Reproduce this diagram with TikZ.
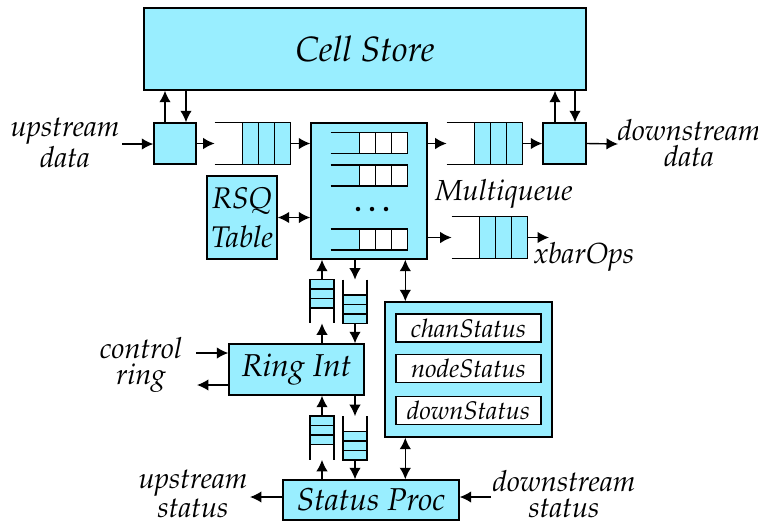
\documentclass[tikz,border=0pt]{standalone}
\usepackage[T1]{fontenc}
\usepackage{mathpazo}
\usetikzlibrary{arrows.meta,positioning,calc}
\definecolor{cellcyan}{HTML}{99EEFF}

% horizontal queue: open at the left, three cells at the right end
\newcommand{\hqueue}[2]{%
  \draw[thick] (#1.north west) -- (#1.north east) (#1.south west) -- (#1.south east);
  \foreach \k in {1,2,3}
    \draw[thick,fill=#2] ([xshift={-\k*0.32cm}]#1.north east) rectangle ([xshift={-(\k-1)*0.32cm}]#1.south east);
}
% vertical queue: cells at the output end (north or south)
\newcommand{\vqueue}[3]{%
  \draw[thick] (#1.north west) -- (#1.south west) (#1.north east) -- (#1.south east);
  \foreach \k in {1,2,3}
    \draw[thick,fill=cellcyan] ([yshift={#2*\k*0.19cm}]#1.#3 west) rectangle ([yshift={#2*(\k-1)*0.19cm}]#1.#3 east);
}

\begin{document}
\begin{tikzpicture}[x=0.02cm,y=-0.02cm,
    every node/.style={font=\itshape},
    unit/.style={draw,thick,fill=cellcyan,inner sep=0pt},
    field/.style={draw,thick,fill=white,minimum width=2.9cm,minimum height=0.56cm,inner sep=0pt,font=\fontsize{14.5}{16}\selectfont\itshape},
    qspace/.style={minimum width=1.5cm,minimum height=0.82cm,inner sep=0pt},
    subq/.style={minimum width=1.52cm,minimum height=0.4cm,inner sep=0pt},
    vslot/.style={minimum width=0.46cm,minimum height=0.86cm,inner sep=0pt},
    lbl/.style={align=center,inner sep=1pt,font=\fontsize{16.5}{15}\selectfont\itshape},
    link/.style={-{Latex[length=2.3mm,width=2.3mm]},thick},
    both/.style={{Latex[length=2.3mm,width=2.3mm]}-{Latex[length=2.3mm,width=2.3mm]},thick}
]
\useasboundingbox (0,0) rectangle (758,525);

% Top: cell store and its two ports
\node[unit,minimum width=8.84cm,minimum height=1.64cm,font=\fontsize{20}{24}\selectfont\itshape] (store) at (365,49) {Cell Store};
\node[unit,minimum width=0.84cm,minimum height=0.82cm] (inbox) at (175,143.5) {};
\node[unit,minimum width=0.86cm,minimum height=0.82cm] (outbox) at (564.5,143.5) {};

% Queues and multiqueue
\node[qspace] (qin) at (252.5,143.5) {};
\node[unit,minimum width=2.32cm,minimum height=2.72cm] (mq) at (369,191) {};
\node[subq] (mq1) at (369,143) {};
\node[subq] (mq2) at (369,175.5) {};
\node[subq] (mq4) at (369,239.5) {};
\coordinate (dots) at (372,209);
\node[qspace] (qout) at (484.5,143.5) {};
\node[qspace] (qxbar) at (489.5,237.5) {};
\node[unit,minimum width=1.4cm,minimum height=1.66cm,align=center,font=\fontsize{17}{22}\selectfont\itshape] (rsq) at (242,217.5) {RSQ\\Table};

\hqueue{qin}{cellcyan}
\hqueue{qout}{cellcyan}
\hqueue{qxbar}{cellcyan}
\hqueue{mq1}{white}
\hqueue{mq2}{white}
\hqueue{mq4}{white}
\foreach \dx in {-14,0,14}
  \fill ([xshift=\dx*0.02cm]dots) circle (0.045cm);

% Lower half: ring interface, status table, status processor
\node[vslot] (vqa) at (322,301.5) {};
\node[vslot] (vqb) at (355,301.5) {};
\node[unit,minimum width=2.7cm,minimum height=1.02cm,font=\fontsize{18}{20}\selectfont\itshape] (ring) at (296.5,369.5) {Ring Int};
\node[vslot] (vqc) at (322,438) {};
\node[vslot] (vqd) at (355,438) {};
\node[unit,minimum width=3.52cm,minimum height=0.8cm,font=\fontsize{18}{20}\selectfont\itshape] (proc) at (371,500) {Status Proc};
\node[unit,minimum width=3.34cm,minimum height=2.7cm] (stat) at (468.5,369.5) {};
\node[field] (chan) at (468.5,328) {chanStatus};
\node[field] (nodest) at (468.5,368.5) {nodeStatus};
\node[field] (down) at (468.5,410.5) {downStatus};

\vqueue{vqa}{-1}{north}
\vqueue{vqb}{1}{south}
\vqueue{vqc}{-1}{north}
\vqueue{vqd}{1}{south}

% Outside labels
\node[lbl] (updata) at (65,143) {upstream\\data};
\node[lbl] (downdata) at (689,143) {downstream\\data};
\node[lbl] (mqname) at (504,194) {Multiqueue};
\node[lbl] (xbar) at (584,257) {xbarOps};
\node[lbl] (ctrl) at (141,365) {control\\ring};
\node[lbl] (upstat) at (193,494) {upstream\\status};
\node[lbl] (downstat) at (564,494) {downstream\\status};
\coordinate (datain) at (122,144);
\coordinate (dataout) at (618,144);
\coordinate (xout) at (549,237.5);
\coordinate (ctrlin) at (196,353);
\coordinate (ctrlout) at (197,385);
\coordinate (upout) at (250,497);
\coordinate (downin) at (491,497);

% Data path
\draw[link] (datain) -- (datain -| inbox.west);
\draw[link] (inbox) -- (qin);
\draw[link] (qin.east) -- (qin.east -| mq.west);
\draw[link] (mq.east |- qout) -- (qout.west);
\draw[link] (qout) -- (outbox);
\draw[link] (outbox.east) -- (dataout);
\draw[link] (mq.east |- qxbar) -- (qxbar.west);
\draw[link] (qxbar.east) -- (xout);
\draw[both] (rsq.east) -- (rsq.east -| mq.west);

% Cell store ports
\draw[link] ([xshift=-0.2cm]inbox.north) -- ([xshift=-0.2cm]inbox.north |- store.south);
\draw[link] ([xshift=0.22cm]inbox.north |- store.south) -- ([xshift=0.22cm]inbox.north);
\draw[link] ([xshift=-0.19cm]outbox.north) -- ([xshift=-0.19cm]outbox.north |- store.south);
\draw[link] ([xshift=0.21cm]outbox.north |- store.south) -- ([xshift=0.21cm]outbox.north);

% Ring and status links
\draw[link] (vqa.south |- ring.north) -- (vqa.south);
\draw[link] (vqa.north) -- (vqa.north |- mq.south);
\draw[link] (vqb.north |- mq.south) -- (vqb.north);
\draw[link] (vqb.south) -- (vqb.south |- ring.north);
\draw[link] (vqc.south |- proc.north) -- (vqc.south);
\draw[link] (vqc.north) -- (vqc.north |- ring.south);
\draw[link] (vqd.north |- ring.south) -- (vqd.north);
\draw[link] (vqd.south) -- (vqd.south |- proc.north);
\draw[both] ([xshift=0.42cm]stat.north west) -- ([xshift=0.42cm]stat.north west |- mq.south);
\draw[both] ([xshift=0.42cm]stat.south west) -- ([xshift=0.42cm]stat.south west |- proc.north);
\draw[link] (ctrlin) -- (ctrlin -| ring.west);
\draw[link] (ctrlout -| ring.west) -- (ctrlout);
\draw[link] (upout -| proc.west) -- (upout);
\draw[link] (downin) -- (downin -| proc.east);
\end{tikzpicture}
\end{document}
